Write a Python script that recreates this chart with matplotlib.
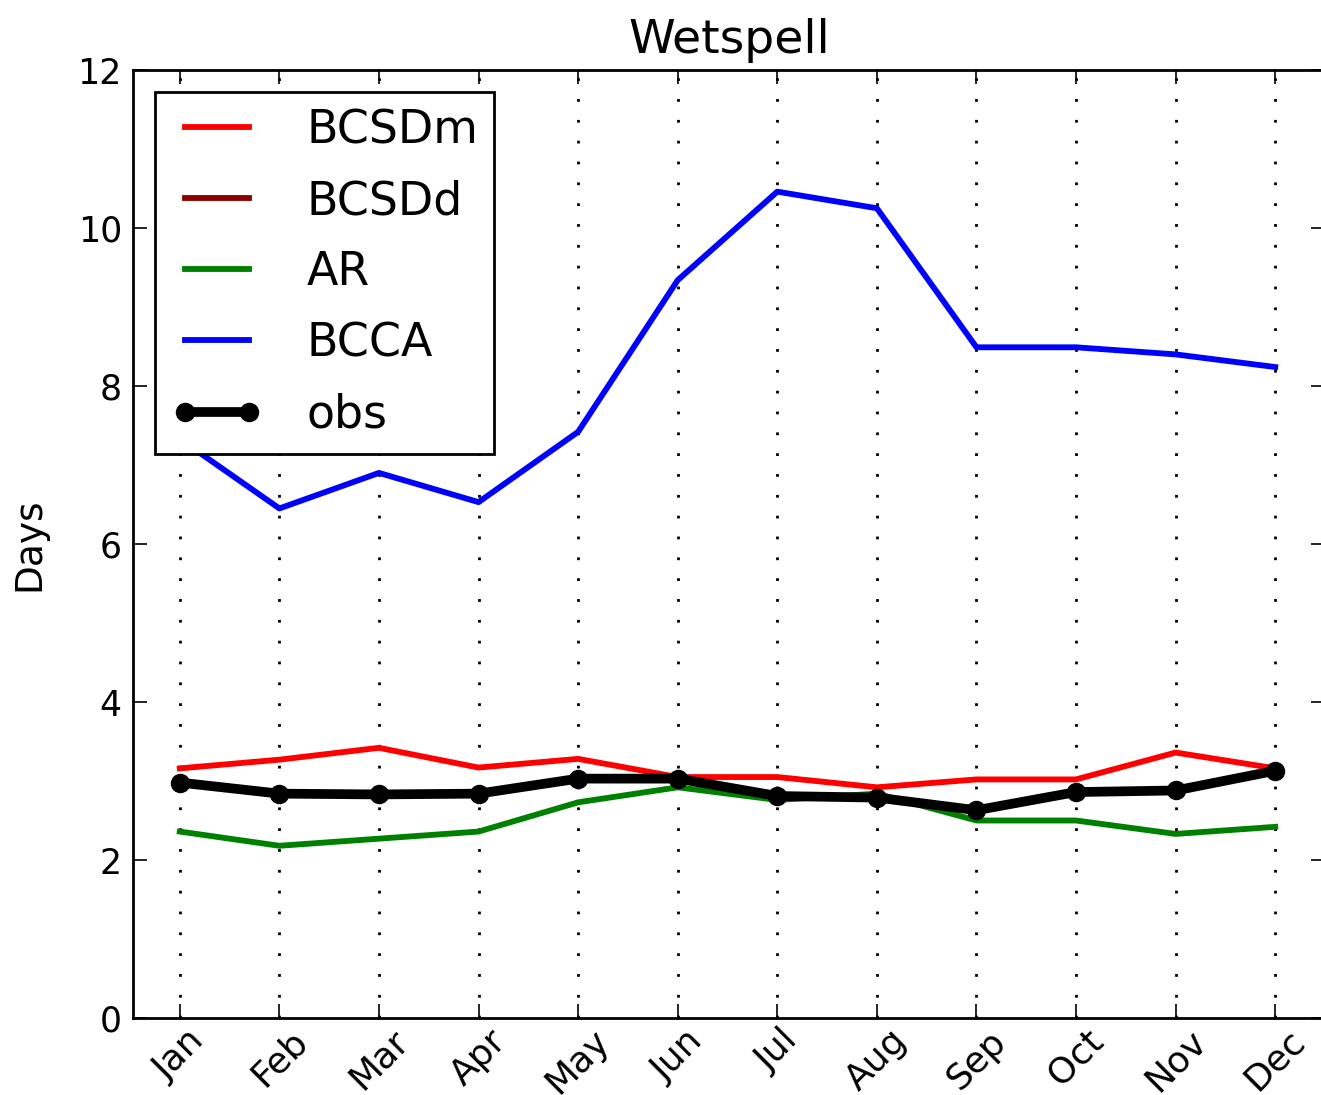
import matplotlib
matplotlib.use('Agg')
import matplotlib.pyplot as plt

months = ['Jan', 'Feb', 'Mar', 'Apr', 'May', 'Jun',
          'Jul', 'Aug', 'Sep', 'Oct', 'Nov', 'Dec']

bcsdm = [3.16, 3.27, 3.42, 3.17, 3.28, 3.05, 3.05, 2.92, 3.02, 3.02, 3.36, 3.16]
obs = [2.98, 2.84, 2.83, 2.84, 3.03, 3.03, 2.81, 2.79, 2.63, 2.86, 2.88, 3.13]
bcsdd = list(obs)  # sits right under the obs curve
ar = [2.36, 2.18, 2.27, 2.36, 2.73, 2.92, 2.76, 2.84, 2.50, 2.50, 2.33, 2.42]
bcca = [7.33, 6.45, 6.90, 6.53, 7.42, 9.34, 10.46, 10.25, 8.49, 8.49, 8.40, 8.24]

x = list(range(len(months)))

fig = plt.figure(figsize=(13.21, 10.95), dpi=100)
ax = fig.add_axes([133/1321, 77/1095, (1325-133)/1321, (1018-70)/1095])

ax.plot(x, bcsdm, color='#ff0000', lw=4.2, label='BCSDm')
ax.plot(x, bcsdd, color='#8b0000', lw=4.2, label='BCSDd')
ax.plot(x, ar, color='#008000', lw=4.2, label='AR')
ax.plot(x, bcca, color='#0000ff', lw=4.2, label='BCCA')
ax.plot(x, obs, color='black', lw=7, marker='o', ms=13, label='obs')

ax.set_xlim(-0.47, 11.5)
ax.set_ylim(0, 12)
ax.set_xticks(x)
ax.set_xticklabels(months, rotation=45, fontsize=26)
ax.set_yticks(range(0, 13, 2))
ax.tick_params(axis='y', labelsize=25, pad=8)
ax.tick_params(axis='x', pad=4)
ax.tick_params(direction='in', length=10, width=1.2, top=True, right=True)

ax.xaxis.grid(True, color='black', lw=2, linestyle=(0, (1, 6.5)))
ax.set_axisbelow(True)

for s in ax.spines.values():
    s.set_linewidth(2)

ax.set_title('Wetspell', fontsize=34, pad=12)
ax.set_ylabel('Days', fontsize=27, labelpad=22)

leg = ax.legend(loc='upper left', fontsize=33, fancybox=False, numpoints=2,
                framealpha=1, handlelength=2.0, handletextpad=0.95,
                borderpad=0.35, labelspacing=0.57, borderaxespad=0.48)
leg.get_frame().set_edgecolor('black')
leg.get_frame().set_linewidth(2)

fig.savefig('out.png', dpi=100)
